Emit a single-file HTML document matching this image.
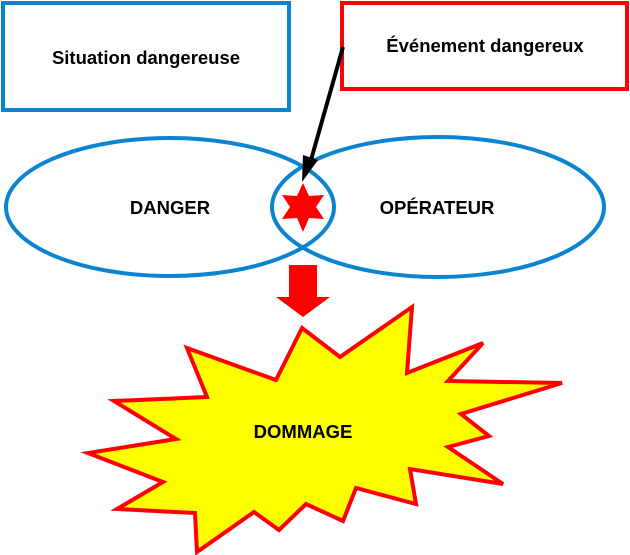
<!DOCTYPE html>
<html><head><meta charset="utf-8"><style>
html,body{margin:0;padding:0;background:#fff;}
svg{display:block;}
text{font-family:"Liberation Sans",sans-serif;font-weight:bold;font-size:18.5px;fill:#000;}
</style></head><body>
<svg width="630" height="555" viewBox="0 0 630 555" xmlns="http://www.w3.org/2000/svg">
<rect x="3" y="3" width="286" height="107" fill="#fff" stroke="#0a84d0" stroke-width="4"/>
<text x="146" y="64" text-anchor="middle">Situation dangereuse</text>
<rect x="342" y="3" width="285" height="86" fill="#fff" stroke="#ff0000" stroke-width="4"/>
<text x="485" y="52" text-anchor="middle">Événement dangereux</text>
<ellipse cx="170" cy="207" rx="164" ry="69" fill="none" stroke="#0a84d0" stroke-width="4"/>
<ellipse cx="438" cy="207" rx="166" ry="70" fill="none" stroke="#0a84d0" stroke-width="4"/>
<text x="170" y="214" text-anchor="middle">DANGER</text>
<text x="437" y="214" text-anchor="middle">OPÉRATEUR</text>
<polygon fill="#ff0000" points="303,183 309,196 324,195 316,207 324,219 309,218 303,232 297,218 282,219 290,207 282,195 297,196"/>
<line x1="343" y1="47" x2="311" y2="160" stroke="#000" stroke-width="4"/>
<polygon fill="#000" points="302,182 303,155 318,160"/>
<polygon fill="#ff0000" points="289,265 317,265 317,297 330,297 303,317 276,297 289,297"/>
<polygon fill="#ffff00" stroke="#ff0000" stroke-width="4" stroke-linejoin="miter" points="302,328 340,357 412,307 407,373 483,343 448,381 562,383 461,414 489,436 448,447 503,484 410,469 416,504 356,488 343,521 306,504 279,530 254,512 197,552 195,513 117,509 163,482 88,453 176,439 114,401 207,397 187,348 276,380"/>
<text x="303" y="438" text-anchor="middle">DOMMAGE</text>
</svg>
</body></html>
